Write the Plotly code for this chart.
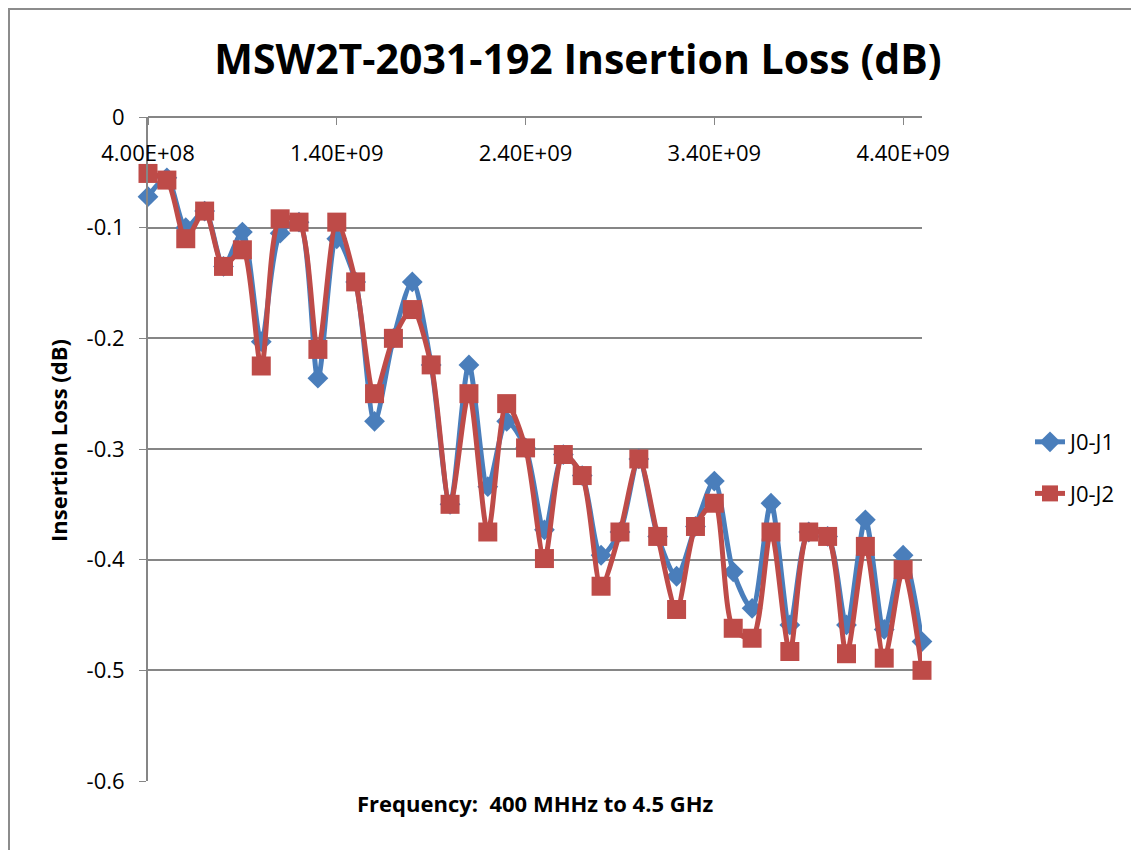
import plotly.graph_objects as go

# frequency points, 400 MHz to 4.5 GHz in 100 MHz steps
freq = [4.0e8, 5.0e8, 6.0e8, 7.0e8, 8.0e8, 9.0e8, 1.0e9, 1.1e9, 1.2e9, 1.3e9,
        1.4e9, 1.5e9, 1.6e9, 1.7e9, 1.8e9, 1.9e9, 2.0e9, 2.1e9, 2.2e9, 2.3e9,
        2.4e9, 2.5e9, 2.6e9, 2.7e9, 2.8e9, 2.9e9, 3.0e9, 3.1e9, 3.2e9, 3.3e9,
        3.4e9, 3.5e9, 3.6e9, 3.7e9, 3.8e9, 3.9e9, 4.0e9, 4.1e9, 4.2e9, 4.3e9,
        4.4e9, 4.5e9]

j0_j1 = [-0.072, -0.055, -0.100, -0.085, -0.135, -0.104, -0.203, -0.105, -0.095, -0.236,
         -0.110, -0.149, -0.275, -0.200, -0.149, -0.224, -0.350, -0.224, -0.334, -0.275,
         -0.299, -0.373, -0.305, -0.324, -0.396, -0.375, -0.309, -0.379, -0.415, -0.370,
         -0.329, -0.411, -0.444, -0.349, -0.459, -0.375, -0.379, -0.459, -0.364, -0.463,
         -0.396, -0.474]

j0_j2 = [-0.051, -0.057, -0.110, -0.085, -0.135, -0.120, -0.225, -0.092, -0.095, -0.210,
         -0.095, -0.149, -0.250, -0.200, -0.174, -0.224, -0.350, -0.250, -0.375, -0.259,
         -0.299, -0.399, -0.305, -0.324, -0.424, -0.375, -0.309, -0.379, -0.445, -0.370,
         -0.349, -0.462, -0.471, -0.375, -0.483, -0.375, -0.379, -0.485, -0.388, -0.489,
         -0.409, -0.500]

x_ticks = [4.0e8, 1.4e9, 2.4e9, 3.4e9, 4.4e9]
x_ticklabels = ['4.00E+08', '1.40E+09', '2.40E+09', '3.40E+09', '4.40E+09']
y_ticks = [0, -0.1, -0.2, -0.3, -0.4, -0.5, -0.6]
y_ticklabels = ['0', '-0.1', '-0.2', '-0.3', '-0.4', '-0.5', '-0.6']

font = 'Open Sans'
grid = '#868686'
W, H = 1131, 842
L, R, T, B = 140, 217, 109, 69
pw, ph = W - L - R, H - T - B

fig = go.Figure()
fig.add_trace(go.Scatter(x=freq, y=j0_j1, name='J0-J1', mode='lines+markers', legendgroup='a',
                         cliponaxis=False,
                         line=dict(color='#4A7EBB', width=5, shape='spline', smoothing=0.8),
                         marker=dict(symbol='diamond', size=16, color='#4A7EBB')))
fig.add_trace(go.Scatter(x=freq, y=j0_j2, name='J0-J2', mode='lines+markers', legendgroup='b',
                         cliponaxis=False,
                         line=dict(color='#BE4B48', width=5, shape='spline', smoothing=0.8),
                         marker=dict(symbol='square', size=19, color='#BE4B48')))

fig.update_layout(
    width=W, height=H,
    margin=dict(l=L, r=R, t=T, b=B),
    paper_bgcolor='white', plot_bgcolor='white',
    font=dict(family=font, color='black'),
    title=dict(text='<b>MSW2T-2031-192 Insertion Loss (dB)</b>', x=(L + pw / 2 + 43) / W, xanchor='center',
               y=1 - 52 / H, yanchor='middle', font=dict(size=41, family=font)),
    legend=dict(x=(1022 - L) / pw, xanchor='left', y=1 - (460 - T) / ph, yanchor='middle',
                font=dict(size=22), tracegroupgap=20, traceorder='grouped',
                itemsizing='trace', bgcolor='rgba(0,0,0,0)'),
    showlegend=True,
)

fig.update_xaxes(range=[4.0e8, 4.5e9], anchor='free', position=1, side='bottom',
                 tickvals=x_ticks, ticktext=x_ticklabels, tickfont=dict(size=22),
                 ticks='outside', ticklen=7, tickcolor=grid, ticklabelstandoff=10,
                 showgrid=False, showline=True, linecolor=grid, linewidth=2, zeroline=False)
fig.update_yaxes(range=[-0.6, 0], tickvals=y_ticks, ticktext=y_ticklabels,
                 tickfont=dict(size=22), ticks='outside', ticklen=7, tickcolor=grid,
                 ticklabelstandoff=10,
                 showgrid=True, gridcolor=grid, gridwidth=2, showline=True,
                 linecolor=grid, linewidth=2, zeroline=False)

fig.add_annotation(text='<b>Frequency:\u00a0\u00a0400 MHHz to 4.5 GHz</b>', xref='paper', yref='paper',
                   x=(535 - 8 - L) / pw, y=-22 / ph, xanchor='center', yanchor='middle',
                   showarrow=False, font=dict(size=22, family=font))
fig.add_annotation(text='<b>Insertion Loss (dB)</b>', xref='paper', yref='paper',
                   x=(50 - L) / pw, y=1 - (441 - 8 - T) / ph, xanchor='center', yanchor='middle',
                   textangle=-90, showarrow=False, font=dict(size=22, family=font))

# chart area border (left and top edges visible)
fig.add_shape(type='rect', xref='paper', yref='paper',
              x0=(1 - L) / pw, x1=1.5, y0=-0.5, y1=1 + (T - 1) / ph,
              line=dict(color='#8c8c8c', width=2), fillcolor='rgba(0,0,0,0)')

fig.write_html('out.html')
